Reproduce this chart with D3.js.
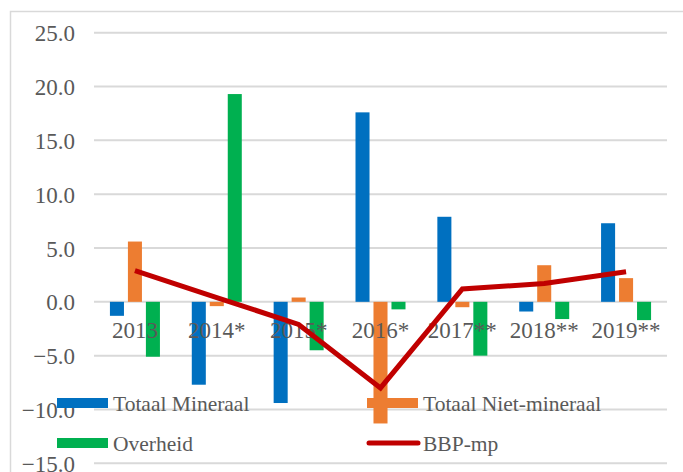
<!DOCTYPE html>
<html>
<head>
<meta charset="utf-8">
<script src="https://cdn.jsdelivr.net/npm/d3@7"></script>
<style>
  body { margin: 0; background: #fff; }
  svg text { font-family: "Liberation Serif", "Times New Roman", serif !important; }
</style>
</head>
<body>
<div id="chart"></div>
<script>
// data
var categories = ["2013", "2014*", "2015*", "2016*", "2017**", "2018**", "2019**"];
var mineraal = [-1.3, -7.7, -9.4, 17.6, 7.9, -0.9, 7.3];
var nietMineraal = [5.6, -0.4, 0.4, -11.3, -0.5, 3.4, 2.2];
var overheid = [-5.1, 19.3, -4.5, -0.7, -5.0, -1.6, -1.7];
var bbp = [2.9, 0.4, -2.1, -8.0, 1.2, 1.7, 2.8];
var yTicks = [-15, -10, -5, 0, 5, 10, 15, 20, 25];

var barSeries = [
    {name: "Totaal Mineraal", values: mineraal, color: "#0070C0"},
    {name: "Totaal Niet-mineraal", values: nietMineraal, color: "#ED7D31"},
    {name: "Overheid", values: overheid, color: "#00B050"}
];
var lineColor = "#C00000";
var serif = "\"Liberation Serif\", \"Times New Roman\", serif";

var width = 683, height = 472;
var svg = d3.select("#chart")
    .append("svg")
        .attr("width", width)
        .attr("height", height)
        .style("font-family", serif);

// chart frame
svg.append("rect")
    .attr("x", 10.5)
    .attr("y", 11.5)
    .attr("width", 700)
    .attr("height", 500)
    .attr("fill", "none")
    .attr("stroke", "#d9d9d9")
    .attr("stroke-width", 1.5);

var x0 = d3.scaleBand()
    .domain(categories)
    .range([94, 667]);
var x1 = d3.scaleBand()
    .domain(barSeries.map(d => d.name))
    .range([-25, 25])
    .paddingInner(0.22);
var y = d3.scaleLinear()
    .domain([-15, 25])
    .range([463.3, 32.7]);

// gridlines + y labels
svg.append("g")
    .selectAll("line")
    .data(yTicks)
    .enter()
    .append("line")
        .attr("x1", 94)
        .attr("x2", 667)
        .attr("y1", d => y(d))
        .attr("y2", d => y(d))
        .attr("stroke", "#d9d9d9")
        .attr("stroke-width", 2);

svg.append("g")
    .selectAll("text")
    .data(yTicks)
    .enter()
    .append("text")
        .attr("x", 75)
        .attr("y", d => y(d) + 8.5)
        .attr("text-anchor", "end")
        .style("font-size", "23px")
        .attr("fill", "#595959")
        .text(d => d3.format(".1f")(d));

// bars
barSeries.forEach(s => {
    svg.append("g")
        .selectAll("rect")
        .data(s.values)
        .enter()
        .append("rect")
            .attr("x", (d, i) => x0(categories[i]) + x0.bandwidth() / 2 + x1(s.name))
            .attr("y", d => y(Math.max(0, d)))
            .attr("width", x1.bandwidth())
            .attr("height", d => Math.abs(y(d) - y(0)))
            .attr("fill", s.color);
});

// category labels sit just under the zero line
svg.append("g")
    .selectAll("text")
    .data(categories)
    .enter()
    .append("text")
        .attr("x", d => x0(d) + x0.bandwidth() / 2)
        .attr("y", y(0) + 36)
        .attr("text-anchor", "middle")
        .style("font-size", "23px")
        .attr("fill", "#595959")
        .text(d => d);

// BBP line
svg.append("path")
    .datum(bbp)
    .attr("fill", "none")
    .attr("stroke", lineColor)
    .attr("stroke-width", 5)
    .attr("stroke-linejoin", "miter")
    .attr("d", d3.line()
        .x((d, i) => x0(categories[i]) + x0.bandwidth() / 2)
        .y(d => y(d))
    );

// legend, 2 x 2, no background
var legendItems = barSeries.map(d => ({name: d.name, color: d.color, type: "bar"}))
    .concat([{name: "BBP-mp", color: lineColor, type: "line"}]);
var legendCols = [57, 367];
var legendRows = [403, 443];

var legend = svg.append("g")
    .selectAll("g")
    .data(legendItems)
    .enter()
    .append("g")
        .attr("transform", (d, i) => "translate(" + legendCols[i % 2] + "," + legendRows[Math.floor(i / 2)] + ")");

legend.filter(d => d.type == "bar")
    .append("rect")
        .attr("x", 0)
        .attr("y", -5)
        .attr("width", 51)
        .attr("height", 10)
        .attr("fill", d => d.color);

legend.filter(d => d.type == "line")
    .append("line")
        .attr("x1", 2)
        .attr("x2", 51)
        .attr("y1", 0)
        .attr("y2", 0)
        .attr("stroke", d => d.color)
        .attr("stroke-width", 5)
        .attr("stroke-linecap", "round");

legend.append("text")
    .attr("x", 56)
    .attr("y", 7.5)
    .style("font-size", "21.5px")
    .attr("fill", "#595959")
    .text(d => d.name);
</script>
</body>
</html>
